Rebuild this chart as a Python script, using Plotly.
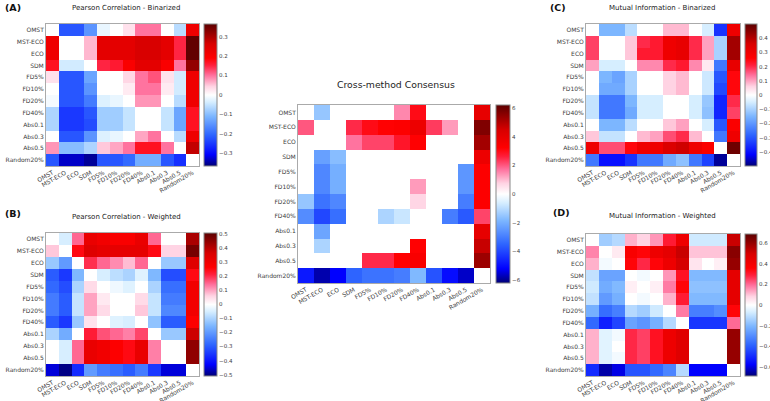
import plotly.graph_objects as go

labels = ["OMST", "MST-ECO", "ECO", "SDM", "FD5%", "FD10%", "FD20%", "FD40%",
          "Abs0.1", "Abs0.3", "Abs0.5", "Random20%"]

pearson_bin = [
    [0.00, -0.22, -0.22, -0.15, -0.02, 0.00, 0.03, 0.10, 0.10, 0.00, -0.06, 0.22],
    [0.22, 0.00, 0.00, 0.06, 0.24, 0.24, 0.24, 0.26, 0.26, 0.24, 0.15, 0.36],
    [0.22, 0.00, 0.00, 0.06, 0.24, 0.24, 0.24, 0.26, 0.26, 0.24, 0.15, 0.36],
    [0.17, -0.04, -0.04, 0.00, 0.15, 0.16, 0.20, 0.24, 0.24, 0.20, 0.10, 0.32],
    [0.03, -0.22, -0.22, -0.13, 0.00, 0.00, 0.04, 0.10, 0.12, 0.03, -0.04, 0.22],
    [0.00, -0.22, -0.22, -0.15, 0.00, 0.00, 0.02, 0.10, 0.10, 0.02, -0.04, 0.22],
    [-0.01, -0.22, -0.22, -0.18, -0.03, -0.02, 0.00, 0.08, 0.08, 0.00, -0.06, 0.22],
    [-0.07, -0.25, -0.25, -0.22, -0.08, -0.08, -0.05, 0.00, 0.00, -0.05, -0.13, 0.17],
    [-0.07, -0.25, -0.25, -0.23, -0.08, -0.08, -0.05, 0.00, 0.00, -0.05, -0.13, 0.17],
    [0.00, -0.22, -0.22, -0.15, -0.03, -0.02, 0.00, 0.07, 0.10, 0.00, -0.06, 0.22],
    [0.08, -0.10, -0.10, -0.07, 0.05, 0.07, 0.10, 0.17, 0.17, 0.10, 0.00, 0.28],
    [-0.22, -0.33, -0.33, -0.35, -0.22, -0.22, -0.20, -0.12, -0.12, -0.22, -0.26, 0.00],
]

pearson_w = [
    [0.00, -0.05, 0.15, 0.32, 0.30, 0.28, 0.28, 0.32, 0.15, 0.00, 0.00, 0.42],
    [0.07, 0.00, 0.25, 0.35, 0.33, 0.33, 0.33, 0.33, 0.25, 0.06, 0.06, 0.48],
    [-0.12, -0.20, 0.00, 0.20, 0.15, 0.12, 0.08, 0.15, 0.00, -0.12, -0.12, 0.35],
    [-0.30, -0.35, -0.15, 0.00, -0.05, -0.08, -0.10, -0.04, -0.15, -0.32, -0.32, 0.25],
    [-0.28, -0.32, -0.10, 0.05, 0.00, -0.02, -0.04, 0.00, -0.10, -0.27, -0.27, 0.30],
    [-0.25, -0.30, -0.07, 0.10, 0.03, 0.00, 0.00, 0.05, -0.07, -0.25, -0.25, 0.30],
    [-0.25, -0.30, -0.07, 0.10, 0.05, 0.00, 0.00, 0.07, -0.07, -0.23, -0.23, 0.30],
    [-0.30, -0.35, -0.12, 0.04, 0.00, -0.04, -0.05, 0.00, -0.13, -0.30, -0.30, 0.27],
    [-0.10, -0.17, 0.00, 0.22, 0.17, 0.15, 0.13, 0.18, 0.00, -0.12, -0.12, 0.38],
    [0.00, -0.05, 0.15, 0.32, 0.30, 0.27, 0.25, 0.32, 0.13, 0.00, 0.00, 0.45],
    [0.00, -0.05, 0.15, 0.32, 0.30, 0.27, 0.25, 0.32, 0.13, 0.00, 0.00, 0.45],
    [-0.45, -0.50, -0.37, -0.20, -0.25, -0.27, -0.30, -0.25, -0.35, -0.45, -0.45, 0.00],
]

consensus = [
    [0, -1.5, 0, 0, 0, 0, 1.5, 3.0, 0, 0, 0, 4.0],
    [2.0, 0, 0, 2.5, 3.0, 3.2, 3.3, 3.8, 2.3, 1.3, 0, 5.7],
    [0, 0, 0, 1.7, 2.2, 2.2, 2.8, 3.2, 0, 0, 0, 5.2],
    [0, -2.3, -1.7, 0, 0, 0, 0, 0, 0, 0, 0, 3.8],
    [0, -2.8, -2.0, 0, 0, 0, 0, 0, 0, 0, -2.5, 3.3],
    [0, -2.8, -2.0, 0, 0, 0, 0, 1.3, 0, 0, -2.5, 3.3],
    [-1.5, -3.2, -2.8, 0, 0, 0, 0, 0.7, 0, 0, -3.0, 3.3],
    [-2.7, -4.0, -3.3, 0, 0, -1.2, -0.8, 0, 0, -3.0, -3.7, 2.2],
    [0, -2.2, 0, 0, 0, 0, 0, 0, 0, 0, 0, 4.0],
    [0, -1.2, 0, 0, 0, 0, 0, 3.2, 0, 0, 0, 4.7],
    [0, 0, 0, 0, 2.5, 2.5, 3.2, 3.4, 0, 0, 0, 5.3],
    [-4.8, -5.8, -5.2, -3.5, -3.2, -3.2, -3.0, -1.8, -3.8, -5.0, -5.6, 0],
]

mi_bin = [
    [0.00, -0.15, -0.15, -0.08, 0.00, 0.00, 0.08, 0.08, 0.00, -0.05, -0.35, 0.30],
    [0.18, 0.00, 0.00, 0.07, 0.20, 0.22, 0.30, 0.32, 0.20, 0.10, -0.10, 0.42],
    [0.18, 0.00, 0.00, 0.07, 0.22, 0.22, 0.30, 0.32, 0.20, 0.10, -0.10, 0.42],
    [0.10, -0.05, -0.05, 0.00, 0.12, 0.12, 0.20, 0.22, 0.12, 0.03, -0.25, 0.32],
    [0.00, -0.15, -0.18, -0.10, 0.00, 0.00, 0.06, 0.08, 0.00, -0.06, -0.30, 0.25],
    [0.00, -0.17, -0.17, -0.10, 0.00, 0.00, 0.06, 0.08, 0.00, -0.06, -0.32, 0.25],
    [-0.07, -0.25, -0.25, -0.15, -0.05, -0.05, 0.00, 0.00, -0.05, -0.12, -0.37, 0.20],
    [-0.07, -0.25, -0.25, -0.17, -0.05, -0.05, 0.00, 0.00, -0.05, -0.13, -0.37, 0.18],
    [0.00, -0.15, -0.15, -0.08, 0.00, 0.00, 0.07, 0.10, 0.00, -0.05, -0.30, 0.27],
    [0.07, -0.07, -0.07, 0.00, 0.08, 0.10, 0.17, 0.20, 0.08, 0.00, -0.25, 0.30],
    [0.30, 0.17, 0.17, 0.25, 0.30, 0.30, 0.35, 0.37, 0.30, 0.27, 0.00, 0.48],
    [-0.25, -0.40, -0.40, -0.35, -0.25, -0.25, -0.17, -0.13, -0.25, -0.33, -0.48, 0.00],
]

mi_w = [
    [0.00, -0.15, -0.12, 0.12, 0.08, 0.15, 0.30, 0.42, -0.08, -0.08, -0.08, 0.52],
    [0.17, 0.00, 0.04, 0.38, 0.35, 0.42, 0.45, 0.52, 0.10, 0.10, 0.10, 0.62],
    [0.12, -0.02, 0.00, 0.35, 0.28, 0.35, 0.42, 0.50, 0.05, 0.00, 0.03, 0.60],
    [-0.10, -0.25, -0.25, 0.00, -0.02, 0.00, 0.15, 0.32, -0.20, -0.20, -0.20, 0.45],
    [-0.08, -0.23, -0.20, 0.03, 0.00, 0.03, 0.18, 0.35, -0.18, -0.18, -0.18, 0.45],
    [-0.10, -0.27, -0.22, 0.00, -0.02, 0.00, 0.12, 0.30, -0.20, -0.20, -0.20, 0.45],
    [-0.22, -0.37, -0.33, -0.12, -0.15, -0.08, 0.00, 0.18, -0.33, -0.33, -0.30, 0.35],
    [-0.38, -0.52, -0.45, -0.25, -0.28, -0.22, -0.12, 0.00, -0.48, -0.48, -0.48, 0.20],
    [0.12, -0.05, -0.02, 0.28, 0.25, 0.32, 0.42, 0.47, 0.00, 0.00, 0.00, 0.60],
    [0.12, -0.05, 0.00, 0.28, 0.25, 0.32, 0.42, 0.47, 0.00, 0.00, 0.00, 0.60],
    [0.12, -0.05, -0.02, 0.28, 0.25, 0.32, 0.42, 0.47, 0.00, 0.00, 0.00, 0.60],
    [-0.50, -0.65, -0.60, -0.42, -0.42, -0.38, -0.32, -0.12, -0.58, -0.58, -0.58, 0.00],
]

titles = ["Pearson Correlation - Binarized", "Pearson Correlation - Weighted",
          "Cross-method Consensus", "Mutual Information - Binarized",
          "Mutual Information - Weighted"]
panel_tags = ["(A)", "(B)", "", "(C)", "(D)"]
limits = [0.365, 0.51, 6.2, 0.5, 0.69]
tick_sets = [
    [-0.3, -0.2, -0.1, 0, 0.1, 0.2, 0.3],
    [-0.5, -0.4, -0.3, -0.2, -0.1, 0, 0.1, 0.2, 0.3, 0.4, 0.5],
    [-6, -4, -2, 0, 2, 4, 6],
    [-0.4, -0.3, -0.2, -0.1, 0, 0.1, 0.2, 0.3, 0.4],
    [-0.6, -0.4, -0.2, 0, 0.2, 0.4, 0.6],
]
matrices = [pearson_bin, pearson_w, consensus, mi_bin, mi_w]

W, H = 770, 401
# pixel boxes (left, top, right, bottom) and colorbar (left, width)
boxes = [(46, 24, 199, 166), (46, 233, 199, 376), (298, 105, 490, 283),
         (586, 24, 740, 166), (586, 234, 740, 376)]
cbars = [(204, 13), (204, 13), (496, 14), (745, 12), (745, 12)]
title_pos = [(126, 8), (126, 217), (396, 84), (662, 8), (662, 216)]
tag_pos = [(3, 8), (3, 213), (0, 0), (548, 8), (551, 212)]

cscale = [
    [0.0, "#000075"], [0.08, "#0000ff"], [0.22, "#2f66ff"], [0.35, "#7cb6ff"],
    [0.45, "#d6eeff"], [0.5, "#ffffff"], [0.56, "#ffd3e3"], [0.64, "#ff6f9c"],
    [0.71, "#ff1f3c"], [0.76, "#ff0000"], [0.86, "#d80000"], [1.0, "#5c0000"],
]

tick_font = dict(family="DejaVu Sans", size=6, color="#404040")

fig = go.Figure()
layout = dict(width=W, height=H,
              margin=dict(l=0, r=0, t=0, b=0, pad=0, autoexpand=False),
              paper_bgcolor="white", plot_bgcolor="white",
              font=dict(family="DejaVu Sans", color="#333333", size=7),
              annotations=[])

for i in range(5):
    n = i + 1
    xa = "x" if n == 1 else f"x{n}"
    ya = "y" if n == 1 else f"y{n}"
    ca = "coloraxis" if n == 1 else f"coloraxis{n}"
    fig.add_trace(go.Heatmap(z=matrices[i], x=labels, y=labels, xaxis=xa, yaxis=ya,
                             coloraxis=ca, xgap=0, ygap=0))
    l, t, r, b = boxes[i]
    xd = [l / W, r / W]
    yd = [1 - b / H, 1 - t / H]
    xkey = "xaxis" if n == 1 else f"xaxis{n}"
    ykey = "yaxis" if n == 1 else f"yaxis{n}"
    layout[xkey] = dict(domain=xd, anchor=ya, tickangle=-30, showgrid=False,
                        zeroline=False, showline=True, mirror=True,
                        linecolor="#aaaaaa", linewidth=1, ticks="",
                        tickfont=tick_font, fixedrange=True)
    layout[ykey] = dict(domain=yd, anchor=xa, autorange="reversed", showgrid=False,
                        zeroline=False, showline=True, mirror=True,
                        linecolor="#aaaaaa", linewidth=1, ticks="",
                        tickfont=tick_font, fixedrange=True)
    cl, cw = cbars[i]
    lim = limits[i]
    layout[ca] = dict(cmin=-lim, cmax=lim, colorscale=cscale,
                      colorbar=dict(x=cl / W, xanchor="left", xpad=0, ypad=0,
                                    y=1 - b / H, yanchor="bottom",
                                    len=(b - t) / H, lenmode="fraction",
                                    thickness=cw, thicknessmode="pixels",
                                    outlinewidth=1, outlinecolor="#888888",
                                    tickvals=tick_sets[i], ticks="",
                                    tickfont=dict(family="DejaVu Sans", size=5.5,
                                                  color="#404040")))
    tx, ty = title_pos[i]
    layout["annotations"].append(dict(
        x=tx / W, y=1 - ty / H, xref="paper", yref="paper", text=titles[i],
        showarrow=False, xanchor="center", yanchor="middle",
        font=dict(size=9.3 if i == 2 else 7, color="#222222")))
    if panel_tags[i]:
        px, py = tag_pos[i]
        layout["annotations"].append(dict(
            x=px / W, y=1 - py / H, xref="paper", yref="paper",
            text="<b>" + panel_tags[i] + "</b>", showarrow=False,
            xanchor="left", yanchor="middle",
            font=dict(size=9.5, color="#111111")))

fig.update_layout(**layout)
fig.write_html("out.html", config={"displayModeBar": False},
               post_script="document.body.style.margin='0px';document.body.style.overflow='hidden';")
